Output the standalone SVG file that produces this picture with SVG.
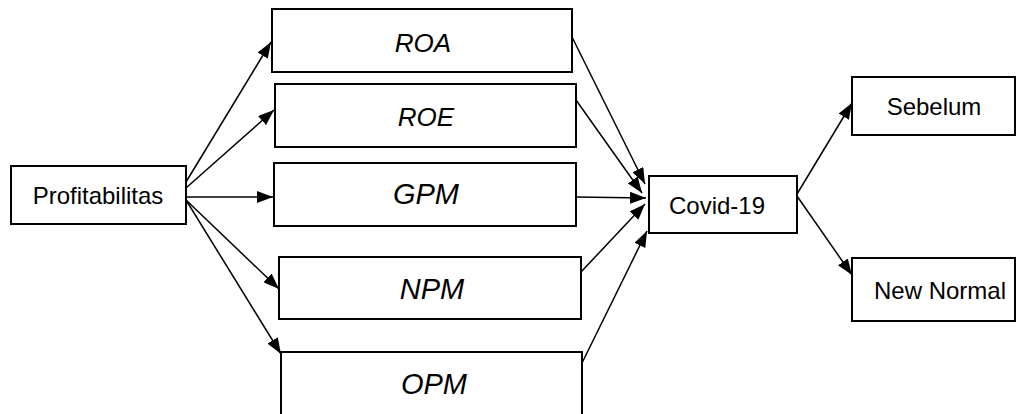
<svg xmlns="http://www.w3.org/2000/svg" width="1016" height="414" viewBox="0 0 1016 414">
  <style>
    .box { fill: #ffffff; stroke: #000000; stroke-width: 2; }
    .lbl { font-family: "Liberation Sans", Arial, sans-serif; font-size: 24px; fill: #000000; text-anchor: middle; }
    .var { font-family: "Liberation Sans", Arial, sans-serif; font-style: italic; fill: #000000; text-anchor: middle; }
    .sm { font-size: 26px; }
    .lg { font-size: 29px; }
    .edge { fill: none; stroke: #000000; stroke-width: 1.5; marker-end: url(#arrow); }
  </style>
  <defs>
    <marker id="arrow" markerUnits="userSpaceOnUse" markerWidth="16" markerHeight="12" refX="16" refY="6" orient="auto">
      <path d="M0,0 L16,6 L0,12 z" fill="#000000"/>
    </marker>
  </defs>
  <rect width="1016" height="414" fill="#ffffff"/>

  <g id="connectors">
    <!-- Profitabilitas to the ratios -->
    <line class="edge" x1="186" y1="182" x2="271" y2="42"/>
    <line class="edge" x1="186" y1="188" x2="274" y2="110"/>
    <line class="edge" x1="186" y1="197" x2="273" y2="197"/>
    <line class="edge" x1="186" y1="200" x2="279" y2="289"/>
    <line class="edge" x1="186" y1="200" x2="281" y2="354"/>
    <!-- ratios to Covid-19 -->
    <line class="edge" x1="572" y1="37" x2="645" y2="184"/>
    <line class="edge" x1="576" y1="100" x2="642" y2="193"/>
    <line class="edge" x1="576" y1="197" x2="646" y2="198"/>
    <line class="edge" x1="581" y1="272" x2="645" y2="204"/>
    <line class="edge" x1="582" y1="363" x2="647" y2="231"/>
    <!-- Covid-19 to periods -->
    <line class="edge" x1="797" y1="194" x2="852" y2="103"/>
    <line class="edge" x1="797" y1="196" x2="852" y2="275"/>
  </g>

  <g id="profitabilitas">
    <rect class="box" x="11" y="166" width="175" height="58"/>
    <text class="lbl" x="98" y="204">Profitabilitas</text>
  </g>
  <g id="roa">
    <rect class="box" x="272" y="9" width="300" height="63"/>
    <text class="var sm" x="423" y="52">ROA</text>
  </g>
  <g id="roe">
    <rect class="box" x="275" y="84" width="301" height="63"/>
    <text class="var sm" x="426" y="126">ROE</text>
  </g>
  <g id="gpm">
    <rect class="box" x="274" y="163" width="302" height="63"/>
    <text class="var lg" x="426" y="204">GPM</text>
  </g>
  <g id="npm">
    <rect class="box" x="279" y="257" width="302" height="62"/>
    <text class="var lg" x="432" y="299">NPM</text>
  </g>
  <g id="opm">
    <rect class="box" x="281" y="352" width="301" height="70"/>
    <text class="var lg" x="434" y="394">OPM</text>
  </g>
  <g id="covid">
    <rect class="box" x="649" y="176" width="148" height="57"/>
    <text class="lbl" x="717" y="214">Covid-19</text>
  </g>
  <g id="sebelum">
    <rect class="box" x="852" y="77" width="163" height="58"/>
    <text class="lbl" x="934" y="115">Sebelum</text>
  </g>
  <g id="new-normal">
    <rect class="box" x="852" y="258" width="163" height="63"/>
    <text class="lbl" x="940" y="299">New Normal</text>
  </g>
</svg>
